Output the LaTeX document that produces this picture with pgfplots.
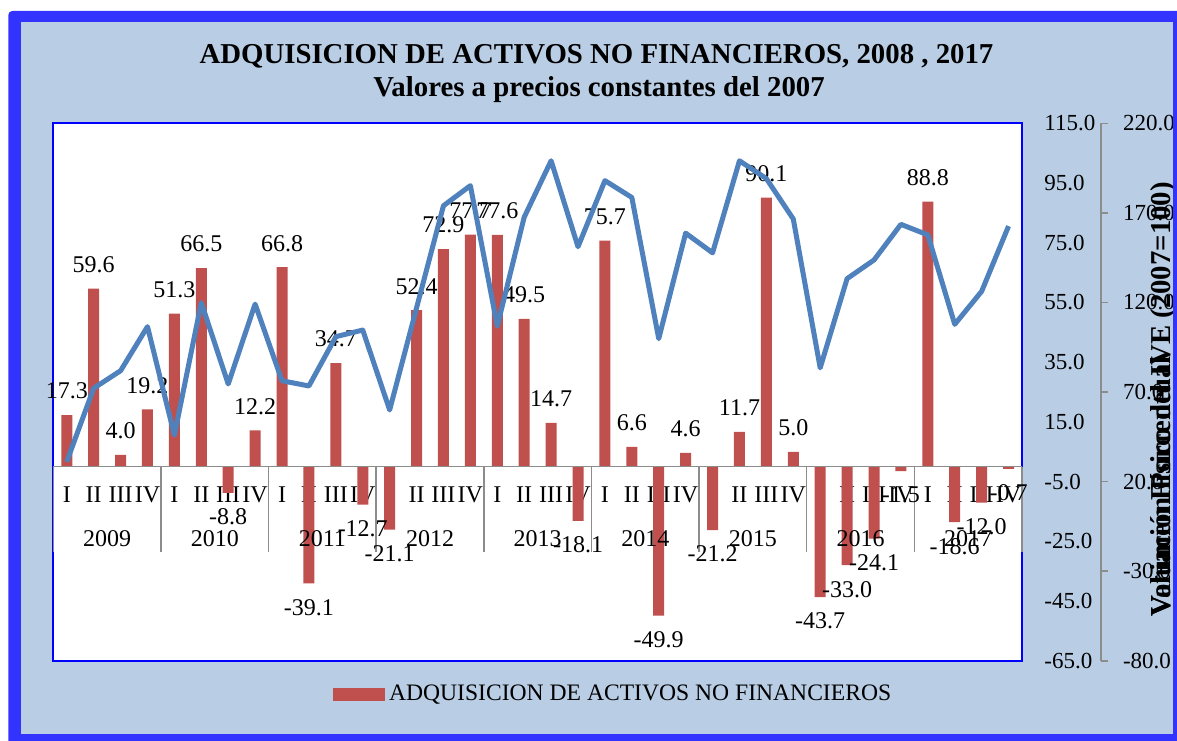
\documentclass[border=0pt]{standalone}
\usepackage{fontspec}
\setmainfont{Liberation Serif}
\usepackage{pgfplots}
\pgfplotsset{compat=1.18}
\definecolor{barred}{HTML}{C0504D}
\definecolor{lineblue}{HTML}{4F81BD}
\definecolor{bgblue}{HTML}{B9CDE5}
\definecolor{frameblue}{HTML}{3333FF}
\definecolor{sepgray}{HTML}{8C8C8C}
\newcommand{\lbl}{\fontsize{12pt}{14pt}\selectfont}
\newcommand{\tkl}{\fontsize{11.5pt}{13pt}\selectfont}
\begin{document}
\begin{tikzpicture}
\path[use as bounding box] (0,0) rectangle (588.5pt,370pt);
\clip (0,0) rectangle (588.5pt,370pt);
\fill[white] (0,0) rectangle (588.5pt,370pt);
\fill[frameblue, rounded corners=2pt] (4.15pt,-10pt) rectangle (600pt,364.5pt);
\fill[bgblue] (10.5pt,2.85pt) rectangle (586.5pt,359.15pt);
\node[font=\fontsize{14.4pt}{17pt}\selectfont\bfseries, anchor=base, inner sep=0pt] at (298.25pt,338.35pt) {ADQUISICION DE ACTIVOS NO FINANCIEROS, 2008 , 2017};
\node[font=\fontsize{14.4pt}{17pt}\selectfont\bfseries, anchor=base, inner sep=0pt] at (299.5pt,321.5pt) {Valores a precios constantes del 2007};

\begin{axis}[
  at={(26.65pt,39.6pt)}, anchor=south west,
  scale only axis, width=484.35pt, height=268.75pt,
  xmin=0.5, xmax=36.5, ymin=-65, ymax=115,
  clip=false,
  axis background/.style={fill=white},
  axis line style={draw=blue, line width=1pt},
  ytick={-65,-45,...,115},
  ytick pos=right,
  major tick length=0pt,
  yticklabel style={font=\tkl, anchor=west, xshift=7.7pt},
  xtick={1,...,36},
  xticklabels={I,II,III,IV,I,II,III,IV,I,II,III,IV,I,II,III,IV,I,II,III,IV,I,II,III,IV,I,II,III,IV,I,II,III,IV,I,II,III,IV},
  xticklabel style={font=\lbl, anchor=center, yshift=82.9pt},
  legend style={at={(0.2884,-0.0627)}, anchor=west, draw=none, fill=none, inner sep=0pt, font=\fontsize{11.8pt}{13pt}\selectfont},
  legend cell align=left,
  /pgf/number format/fixed,
  /pgf/number format/fixed zerofill,
  /pgf/number format/precision=1,
  /pgf/number format/assume math mode=true,
]
\addplot[ybar, bar width=5.5pt, bar shift=0pt, fill=barred, draw=none,
  nodes near coords, nodes near coords align={vertical},
  every node near coord/.append style={font=\lbl, inner xsep=0pt, inner ysep=7.7pt, text=black},
  legend image code/.code={\fill[barred] (0pt,-3.1pt) rectangle (26pt,3.1pt);}
] coordinates {
(1,17.3) (2,59.6) (3,4.0) (4,19.2)
(5,51.3) (6,66.5) (7,-8.8) (8,12.2)
(9,66.8) (10,-39.1) (11,34.7) (12,-12.7)
(13,-21.1) (14,52.4) (15,72.9) (16,77.7)
(17,77.6) (18,49.5) (19,14.7) (20,-18.1)
(21,75.7) (22,6.6) (23,-49.9) (24,4.6)
(25,-21.2) (26,11.7) (27,90.1) (28,5.0)
(29,-43.7) (30,-33.0) (31,-24.1) (32,-1.5)
(33,88.8) (34,-18.6) (35,-12.0) (36,-0.7)
};
\addlegendentry{ADQUISICION DE ACTIVOS NO FINANCIEROS}
\addplot[sepgray, line width=0.75pt, forget plot, mark=none] coordinates {(0.5,0) (36.5,0)};
\addplot[ycomb, sepgray, line width=0.75pt, forget plot, mark=none] coordinates {
(0.5,-28.5) (4.5,-28.5) (8.5,-28.5) (12.5,-28.5) (16.5,-28.5) (20.5,-28.5) (24.5,-28.5) (28.5,-28.5) (32.5,-28.5) (36.5,-28.5)};
\node[font=\lbl] at (axis cs:2.5,-24) {2009};
\node[font=\lbl] at (axis cs:6.5,-24) {2010};
\node[font=\lbl] at (axis cs:10.5,-24) {2011};
\node[font=\lbl] at (axis cs:14.5,-24) {2012};
\node[font=\lbl] at (axis cs:18.5,-24) {2013};
\node[font=\lbl] at (axis cs:22.5,-24) {2014};
\node[font=\lbl] at (axis cs:26.5,-24) {2015};
\node[font=\lbl] at (axis cs:30.5,-24) {2016};
\node[font=\lbl] at (axis cs:34.5,-24) {2017};
\end{axis}

\begin{axis}[
  at={(26.65pt,39.6pt)}, anchor=south west,
  scale only axis, width=523.85pt, height=268.75pt,
  xmin=0.5, xmax=39.436, ymin=-80, ymax=220,
  axis x line=none, axis y line*=right,
  y axis line style={sepgray, line width=0.75pt},
  ytick={-80,-30,...,220},
  tick align=outside, major tick length=3.5pt,
  ytick style={sepgray, line width=0.75pt},
  yticklabel style={font=\tkl, anchor=west, xshift=4pt},
  /pgf/number format/fixed,
  /pgf/number format/fixed zerofill,
  /pgf/number format/precision=1,
  /pgf/number format/assume math mode=true,
]
\addplot[lineblue, line width=2.5pt, line join=round, mark=none] coordinates {
(1,31.1) (2,72.1) (3,81.9) (4,106.5)
(5,46.0) (6,119.9) (7,74.5) (8,119.1)
(9,76.3) (10,73.4) (11,100.9) (12,104.6)
(13,60.0) (14,117.0) (15,174.0) (16,185.2)
(17,106.8) (18,167.6) (19,199.1) (20,151.1)
(21,188.0) (22,178.6) (23,99.8) (24,158.7)
(25,147.7) (26,199.1) (27,189.1) (28,166.6)
(29,83.5) (30,133.3) (31,143.7) (32,163.6)
(33,157.7) (34,107.8) (35,126.2) (36,162.6)
};
\end{axis}

\node[rotate=90, anchor=base west, inner sep=0pt, font=\fontsize{14.4pt}{17pt}\selectfont\bfseries] at (585pt,61.5pt) {Variación Porcentual};
\node[rotate=90, anchor=base west, inner sep=0pt, font=\fontsize{14.4pt}{17pt}\selectfont\bfseries] at (585pt,61.5pt) {Volumen Físico del IVE (2007=100)};
\fill[frameblue] (586.5pt,-10pt) rectangle (600pt,364.5pt);
\end{tikzpicture}
\end{document}
